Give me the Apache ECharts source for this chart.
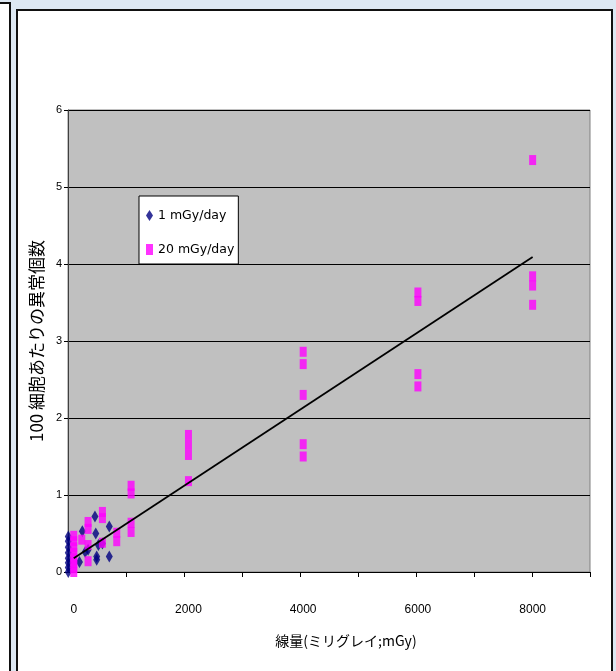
<!DOCTYPE html>
<html>
<head>
<meta charset="utf-8">
<script src="https://cdn.jsdelivr.net/npm/echarts@6/dist/echarts.min.js"></script>
<style>
  html, body { margin: 0; padding: 0; }
  body { width: 616px; height: 671px; position: relative; overflow: hidden;
         background: #dde8f3; }
  #leftBox { position: absolute; left: -4px; top: 2px; width: 13px; height: 700px;
             background: #fff; border-top: 2px solid #111; border-right: 2px solid #111; }
  #panel { position: absolute; left: 16px; top: 9px; width: 593px; height: 700px;
           background: #fff; border: 2px solid #111; }
  #chart { position: absolute; left: 0; top: 0; width: 616px; height: 671px; }
</style>
</head>
<body>
<div id="leftBox"></div>
<div id="panel"></div>
<div id="chart"></div>
<script>
// 1 mGy/day: dose (mGy) and aberrations per 100 cells
const lowRateDose = [-95, -95, -95, -95, -95, -95, -95, -95,
                     100, 150, 200, 250, 370, 384, 400, 400, 430, 500, 620, 620];
const lowRateValue = [0.0, 0.06, 0.12, 0.18, 0.25, 0.32, 0.40, 0.46,
                      0.13, 0.53, 0.26, 0.29, 0.72, 0.50, 0.20, 0.16, 0.35, 0.37, 0.59, 0.20];

// 20 mGy/day: dose (mGy) and aberrations per 100 cells
const highRateDose = [0, 0, 0, 0, 0, 0, 0, 0,
                      140,
                      250, 250, 250, 250,
                      500, 500, 500,
                      750, 750,
                      1000, 1000, 1000, 1000,
                      2000, 2000, 2000, 2000,
                      4000, 4000, 4000, 4000, 4000,
                      6000, 6000, 6000, 6000,
                      8000, 8000, 8000, 8000];
const highRateValue = [0.0, 0.05, 0.12, 0.18, 0.25, 0.32, 0.40, 0.47,
                       0.42,
                       0.65, 0.56, 0.35, 0.14,
                       0.78, 0.70, 0.38,
                       0.51, 0.40,
                       1.12, 1.02, 0.64, 0.52,
                       1.78, 1.65, 1.52, 1.18,
                       2.86, 2.70, 2.30, 1.66, 1.50,
                       3.63, 3.52, 2.57, 2.41,
                       5.35, 3.84, 3.72, 3.47];

// linear fit line end points
const fitDose = [0, 8000];
const fitValue = [0.18, 4.09];

const xLabels = [0, 2000, 4000, 6000, 8000];
const xTicks = [911, 1922, 2933, 3944, 4956, 5967, 6978, 7989, 9000];
const yTicks = [0, 1, 2, 3, 4, 5, 6];

const zip = (xs, ys) => xs.map((x, i) => [x, ys[i]]);

const chart = echarts.init(document.getElementById('chart'), null, { renderer: 'canvas' });
chart.setOption({
  animation: false,
  backgroundColor: 'transparent',
  grid: {
    left: 68, right: 26, top: 110, bottom: 99,
    show: true, backgroundColor: '#c0c0c0', borderColor: '#808080', borderWidth: 1
  },
  legend: {
    orient: 'vertical',
    left: 139, top: 196,
    backgroundColor: '#fff', borderColor: '#000', borderWidth: 1, borderRadius: 0,
    padding: [13, 4, 8, 7],
    itemWidth: 7, itemHeight: 11, itemGap: 21,
    textStyle: { fontFamily: 'DejaVu Sans', fontSize: 12.5, color: '#000' },
    data: [
      { name: '1 mGy/day', icon: 'diamond' },
      { name: '20 mGy/day', icon: 'rect' }
    ]
  },
  xAxis: {
    type: 'value', min: -100, max: 9000,
    name: '線量(ミリグレイ;mGy)', nameLocation: 'middle', nameGap: 62,
    nameTextStyle: { fontFamily: 'Noto Sans CJK JP', fontSize: 14, color: '#000',
                     padding: [0, 0, 0, 34] },
    axisLine: { lineStyle: { color: '#000', width: 1 } },
    axisTick: { show: true, length: 5, customValues: xTicks, lineStyle: { color: '#000' } },
    axisLabel: { customValues: xLabels, margin: 32, fontFamily: 'Liberation Sans', fontSize: 12,
                 color: '#000', formatter: v => String(v) },
    splitLine: { show: false }
  },
  yAxis: {
    type: 'value', min: 0, max: 6,
    name: '100 細胞あたりの異常個数', nameLocation: 'middle', nameGap: 21,
    nameTextStyle: { fontFamily: 'Noto Sans CJK JP', fontSize: 17, color: '#000' },
    axisLine: { show: true, onZero: false, lineStyle: { color: '#404040', width: 1 } },
    axisTick: { show: true, length: 4, customValues: yTicks, lineStyle: { color: '#000' } },
    axisLabel: { customValues: yTicks, margin: 6, fontFamily: 'Liberation Sans', fontSize: 11,
                 color: '#000', formatter: v => String(v) },
    splitLine: { show: true, lineStyle: { color: '#000', width: 1 } }
  },
  series: [
    {
      name: '1 mGy/day', type: 'scatter', symbol: 'diamond', symbolSize: [7, 12],
      itemStyle: { color: '#000080' }, data: zip(lowRateDose, lowRateValue), z: 3
    },
    {
      name: '20 mGy/day', type: 'scatter', symbol: 'rect', symbolSize: [7, 10],
      itemStyle: { color: '#ff00ff' }, data: zip(highRateDose, highRateValue), z: 4
    },
    {
      name: 'fit', type: 'line', showSymbol: false, symbol: 'none',
      lineStyle: { color: '#000', width: 1.8 }, data: zip(fitDose, fitValue), z: 5
    }
  ]
});
</script>
</body>
</html>
